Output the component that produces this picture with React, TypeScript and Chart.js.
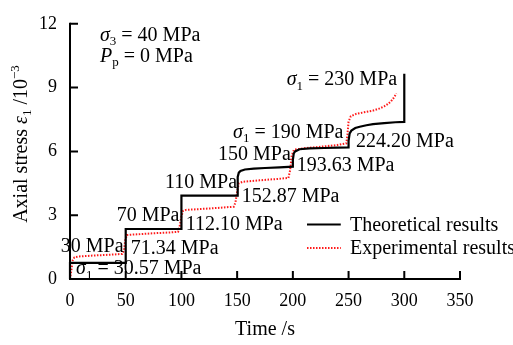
import React, { useEffect, useRef } from 'react';
import { Chart, registerables } from 'chart.js';

Chart.register(...registerables);

// ---- Data ----
const theoTime = [0, 0, 50, 50, 100, 100, 150, 150.5, 151.5, 153, 157, 165, 175, 188, 200, 200, 200.8, 202, 206, 215, 228, 240, 250, 250, 251, 252.5, 256, 260, 266, 272, 282, 292, 300, 300];
const theoStrain = [0, 0.76, 0.76, 2.35, 2.35, 3.92, 3.92, 4.8, 5.0, 5.08, 5.15, 5.19, 5.22, 5.25, 5.28, 5.6, 5.9, 6.0, 6.1, 6.14, 6.16, 6.18, 6.19, 6.5, 6.85, 6.98, 7.1, 7.16, 7.23, 7.28, 7.33, 7.37, 7.39, 9.65];

const expTime = [0, 1.5, 2.5, 4, 8, 20, 35, 47, 48.5, 49.5, 51, 60, 75, 90, 97, 98.5, 100, 101.5, 104, 120, 135, 147, 148.5, 150, 151.5, 155, 170, 185, 196, 197.5, 199, 201, 210, 225, 240, 248, 249, 250, 252, 257, 265, 272, 278, 282, 285, 288, 290, 291.5, 293];
const expStrain = [0, 0.5, 0.9, 1.02, 1.06, 1.1, 1.14, 1.18, 1.35, 1.8, 2.07, 2.1, 2.15, 2.19, 2.22, 2.5, 2.95, 3.2, 3.25, 3.3, 3.35, 3.4, 3.6, 4.1, 4.5, 4.57, 4.64, 4.7, 4.75, 5.1, 5.8, 6.08, 6.15, 6.22, 6.3, 6.38, 6.8, 7.4, 7.65, 7.77, 7.85, 7.92, 8.02, 8.12, 8.22, 8.35, 8.48, 8.6, 8.72];

const seriesNames = ['Theoretical results', 'Experimental results'];
const xTicks = [0, 50, 100, 150, 200, 250, 300, 350];
const yTicks = [0, 3, 6, 9, 12];

type Seg = { t: string; it?: boolean; sub?: boolean; sup?: boolean };

const sig = (n: string): Seg[] => [{ t: 'σ', it: true }, { t: n, sub: true }];

// annotations: left edge / baseline given in data coordinates (time, strain)
const annotations: { segs: Seg[]; t: number; v: number }[] = [
  { segs: [...sig('3'), { t: ' = 40 MPa' }], t: 26.9, v: 11.2 },
  { segs: [{ t: 'P', it: true }, { t: 'p', sub: true }, { t: ' = 0 MPa' }], t: 26.9, v: 10.22 },
  { segs: [...sig('1'), { t: ' = 230 MPa' }], t: 194.5, v: 9.1 },
  { segs: [...sig('1'), { t: ' = 190 MPa' }], t: 146.3, v: 6.64 },
  { segs: [{ t: '150 MPa' }], t: 132.8, v: 5.61 },
  { segs: [{ t: '110 MPa' }], t: 85.3, v: 4.28 },
  { segs: [{ t: '70 MPa' }], t: 41.9, v: 2.71 },
  { segs: [{ t: '30 MPa' }], t: -8.3, v: 1.26 },
  { segs: [...sig('1'), { t: ' = 30.57 MPa' }], t: 5.4, v: 0.22 },
  { segs: [{ t: '71.34 MPa' }], t: 54.5, v: 1.18 },
  { segs: [{ t: '112.10 MPa' }], t: 103.8, v: 2.29 },
  { segs: [{ t: '152.87 MPa' }], t: 154.1, v: 3.63 },
  { segs: [{ t: '193.63 MPa' }], t: 203.4, v: 5.09 },
  { segs: [{ t: '224.20 MPa' }], t: 256.7, v: 6.19 },
];

const FONT = '"Liberation Serif", "Times New Roman", serif';
const TXT = 20;

function segFont(s: Seg, size: number) {
  const sz = s.sub || s.sup ? Math.round(size * 0.65) : size;
  return `${s.it ? 'italic ' : ''}${sz}px ${FONT}`;
}
function measureRich(ctx: CanvasRenderingContext2D, segs: Seg[], size: number) {
  let w = 0;
  for (const s of segs) {
    ctx.font = segFont(s, size);
    w += ctx.measureText(s.t).width;
  }
  return w;
}
function drawRich(ctx: CanvasRenderingContext2D, segs: Seg[], x: number, y: number, size: number) {
  let cx = x;
  ctx.textAlign = 'left';
  ctx.textBaseline = 'alphabetic';
  for (const s of segs) {
    ctx.font = segFont(s, size);
    const dy = s.sub ? size * 0.22 : s.sup ? -size * 0.38 : 0;
    ctx.fillText(s.t, cx, y + dy);
    cx += ctx.measureText(s.t).width;
  }
}

const decor = {
  id: 'decor',
  afterDatasetsDraw(chart: any) {
    const ctx: CanvasRenderingContext2D = chart.ctx;
    const xs = chart.scales.x;
    const ys = chart.scales.y;
    const ca = chart.chartArea;
    ctx.save();
    // axes
    ctx.strokeStyle = '#000';
    ctx.lineWidth = 2;
    ctx.beginPath();
    ctx.moveTo(ca.left, ys.getPixelForValue(12) - 1);
    ctx.lineTo(ca.left, ca.bottom);
    ctx.lineTo(xs.getPixelForValue(350) + 1, ca.bottom);
    ctx.stroke();
    ctx.beginPath();
    for (const v of yTicks) {
      const py = ys.getPixelForValue(v);
      ctx.moveTo(ca.left, py);
      ctx.lineTo(ca.left + 8, py);
    }
    for (const v of xTicks) {
      const px = xs.getPixelForValue(v);
      ctx.moveTo(px, ca.bottom);
      ctx.lineTo(px, ca.bottom - 8);
    }
    ctx.stroke();

    // annotations
    ctx.fillStyle = '#000';
    for (const a of annotations) {
      drawRich(ctx, a.segs, xs.getPixelForValue(a.t), ys.getPixelForValue(a.v), TXT);
    }

    // legend
    const lx0 = xs.getPixelForValue(212.7);
    const lx1 = xs.getPixelForValue(243);
    const tx = xs.getPixelForValue(251.3);
    const rows = [
      { v: 2.56, color: '#000', dash: [] as number[], w: 2 },
      { v: 1.46, color: '#ff1a1a', dash: [1.5, 1.5], w: 2 },
    ];
    rows.forEach((r, i) => {
      const py = ys.getPixelForValue(r.v);
      ctx.strokeStyle = r.color;
      ctx.lineWidth = r.w;
      ctx.setLineDash(r.dash);
      ctx.beginPath();
      ctx.moveTo(lx0, py);
      ctx.lineTo(lx1, py);
      ctx.stroke();
      ctx.setLineDash([]);
      drawRich(ctx, [{ t: seriesNames[i] }], tx, py + 6, TXT);
    });

    // axis titles
    const xt = [{ t: 'Time /s' }];
    const xw = measureRich(ctx, xt, TXT);
    drawRich(ctx, xt, (ca.left + ca.right) / 2 - xw / 2, 335, TXT);

    const yt: Seg[] = [
      { t: 'Axial stress ' },
      { t: 'ε', it: true },
      { t: '1', sub: true },
      { t: ' /10' },
      { t: '−3', sup: true },
    ];
    const yw = measureRich(ctx, yt, TXT);
    ctx.translate(27, 144);
    ctx.rotate(-Math.PI / 2);
    drawRich(ctx, yt, -yw / 2, 0, TXT);
    ctx.restore();
  },
};

export default function App() {
  const ref = useRef<HTMLCanvasElement | null>(null);
  useEffect(() => {
    if (!ref.current) return;
    const chart = new Chart(ref.current, {
      type: 'line',
      data: {
        datasets: [
          {
            label: seriesNames[0],
            data: theoTime.map((t, i) => ({ x: t, y: theoStrain[i] })),
            borderColor: '#000',
            borderWidth: 2.2,
            pointRadius: 0,
            tension: 0,
            fill: false,
            clip: false as any,
          },
          {
            label: seriesNames[1],
            data: expTime.map((t, i) => ({ x: t, y: expStrain[i] })),
            borderColor: '#ff1a1a',
            borderWidth: 2,
            borderDash: [1.5, 1.5],
            pointRadius: 0,
            tension: 0,
            fill: false,
            clip: false as any,
          },
        ],
      },
      options: {
        animation: false,
        responsive: false,
        maintainAspectRatio: false,
        layout: { padding: { top: 18, right: 53, left: 0, bottom: 0 } },
        plugins: { legend: { display: false }, tooltip: { enabled: false } },
        scales: {
          x: {
            type: 'linear',
            min: 0,
            max: 350,
            afterBuildTicks: (s: any) => {
              s.ticks = xTicks.map((v) => ({ value: v }));
            },
            ticks: {
              color: '#000',
              font: { family: FONT, size: 18 },
              padding: 11,
              maxRotation: 0,
            },
            grid: { display: false, drawTicks: false },
            border: { display: false },
            afterFit: (s: any) => {
              s.height = 66;
            },
          },
          y: {
            type: 'linear',
            min: 0,
            max: 12,
            afterBuildTicks: (s: any) => {
              s.ticks = yTicks.map((v) => ({ value: v }));
            },
            ticks: {
              color: '#000',
              font: { family: FONT, size: 18 },
              padding: 13,
            },
            grid: { display: false, drawTicks: false },
            border: { display: false },
            afterFit: (s: any) => {
              s.width = 70;
            },
          },
        },
      },
      plugins: [decor],
    });
    return () => chart.destroy();
  }, []);
  return (
    <div style={{ position: 'fixed', left: 0, top: 0, width: 513, height: 345, background: '#fff' }}>
      <canvas ref={ref} width={513} height={345} style={{ display: 'block' }} />
    </div>
  );
}
